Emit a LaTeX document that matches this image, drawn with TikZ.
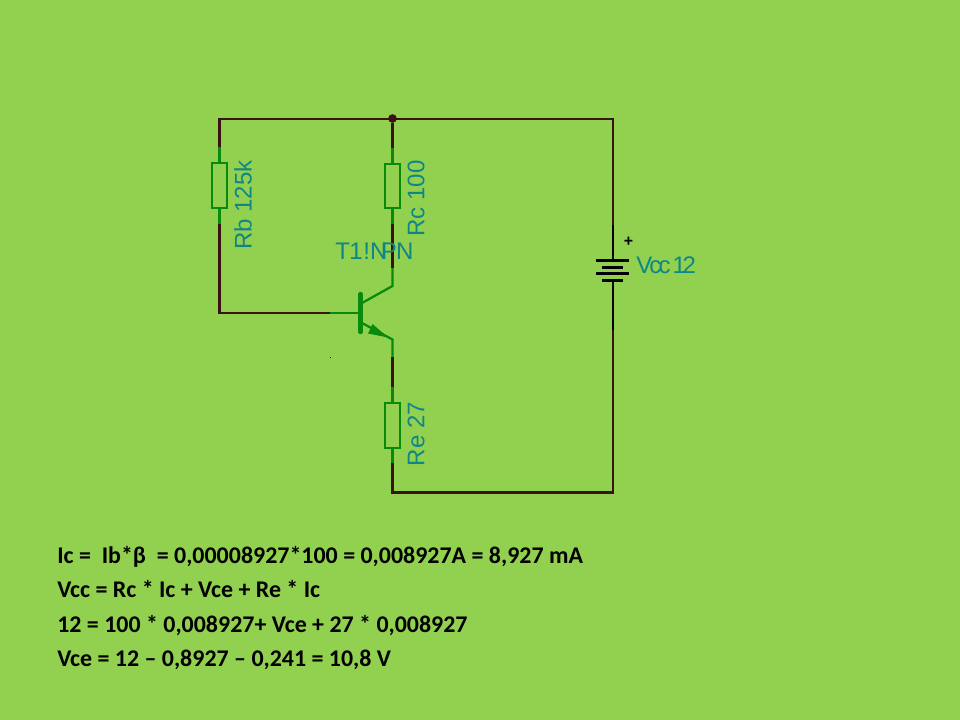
\documentclass[tikz,border=0pt]{standalone}
\usepackage{fontspec}
\setmainfont{Carlito}
\setsansfont{Liberation Sans}
\usetikzlibrary{positioning,backgrounds}
\definecolor{hoja}{HTML}{92D050}
\definecolor{cable}{HTML}{3A1212}
\definecolor{pieza}{HTML}{0A8A0A}
\definecolor{rotulo}{HTML}{0F8686}
\tikzstyle{resistor}=[rectangle,draw=pieza,line width=1.7pt,minimum width=11.2,minimum height=33.5,inner sep=0]
\tikzstyle{wire}=[draw=cable,line width=1.7pt]
\tikzstyle{lead}=[draw=pieza,line width=1.7pt]
\tikzstyle{plate}=[draw=black,line width=2pt]
\tikzstyle{label}=[font=\sffamily\fontsize{18}{18}\selectfont,text=rotulo,inner sep=0]
\tikzstyle{formula}=[font=\bfseries\fontsize{17.95}{18}\selectfont,text=black,anchor=base west,inner sep=0]

\begin{document}
\begin{tikzpicture}[x=.75pt,y=-.75pt]
		\useasboundingbox (0,0) rectangle (960,720);
		\fill[hoja] (0,0) rectangle (960,720);
		\begin{scope}
			\node[resistor]	(rb)	at (219.5,185.5)	{};
			\node[resistor]	(rc)	at (392.5,186)	{};
			\node[resistor]	(re)	at (392.5,425.5)	{};
			\coordinate (tl) at (219.5,119);
			\coordinate (tr) at (613,119);
			\coordinate (bl) at (392.5,492.5);
			\coordinate (br) at (613,492.5);
			\coordinate (bj) at (219.5,313);
			\coordinate (bw) at (330,313);
			\coordinate (base) at (360.5,313);
			\coordinate (colin) at (362,303);
			\coordinate (colout) at (392.5,286);
			\coordinate (colup) at (392.5,268);
			\coordinate (emin) at (362,323);
			\coordinate (emout) at (392.5,339.5);
			\coordinate (emdown) at (392.5,357);
			\coordinate (battop) at (613,260.7);
			\coordinate (batbot) at (613,280.3);
			\node[circle,fill=cable,minimum size=6.5,inner sep=0] (join) at (392.5,118.5) {};

			% cables
			\draw[wire] ([yshift=11.25pt]rb.north) -- (tl) -- (tr) -- (613,225);
			\draw[wire] ([yshift=-11.25pt]rb.south) -- (bj) -- (bw);
			\draw[wire] (join) -- ([yshift=11.25pt]rc.north);
			\draw[wire] ([yshift=-11.25pt]rc.south) -- (colup);
			\draw[wire] (emdown) -- ([yshift=11.25pt]re.north);
			\draw[wire] ([yshift=-10.5pt]re.south) -- (bl) -- (br) -- (batbot);

			% patas verdes
			\draw[lead] (rb.north) -- ([yshift=11.25pt]rb.north);
			\draw[lead] (rb.south) -- ([yshift=-11.25pt]rb.south);
			\draw[lead] (rc.north) -- ([yshift=11.25pt]rc.north);
			\draw[lead] (rc.south) -- ([yshift=-11.25pt]rc.south);
			\draw[lead] (re.north) -- ([yshift=11.25pt]re.north);
			\draw[lead] (re.south) -- ([yshift=-10.5pt]re.south);

			% transistor
			\draw[pieza,line width=3.2pt,line cap=round] (360.5,294) -- (360.5,332);
			\draw[lead] (bw) -- (base);
			\draw[lead] (colin) -- (colout) -- (colup);
			\draw[lead] (emin) -- (emout) -- (emdown);
			\fill[pieza] (388,337.5) -- (368,333.5) -- (372.5,324) -- cycle;
			\fill[black] (329.5,356.5) rectangle (330.5,357.5);

			% bateria
			\draw[plate] (596,260.7) -- (629,260.7);
			\draw[plate] (602,267.3) -- (623,267.3);
			\draw[plate] (596,273.8) -- (629,273.8);
			\draw[plate] (602,280.3) -- (623,280.3);
			\draw[line width=1.7pt,black] (613,225) -- (battop);
			\draw[line width=1.7pt,black] (batbot) -- (613,330);
			\node[font=\sffamily\bfseries\fontsize{12}{12}\selectfont,inner sep=0] (plus) at (628.5,241.5) {+};

			\node[label,rotate=90,anchor=center] (rblab) at (243,205) {Rb 125k};
			\node[label,rotate=90,anchor=center] (rclab) at (416,198.5) {Rc 100};
			\node[label,rotate=90,anchor=center] (relab) at (416,434) {Re 27};
			\node[label] (tlab) at (374.5,251.5) {T\kern-.6pt1\kern.6pt!N\kern-5ptP\kern-.5ptN};
			\node[label,anchor=west] (vlab) at (636,265.5) {V\kern-2.2ptc\kern-2ptc\kern1.5pt 1\kern-2.6pt 2};
		\end{scope}

		\node[formula] (l1) at (57,563) {Ic =\ \ Ib*β\ \ = 0,00008927*100 = 0,008927A = 8,927 mA};
		\node[formula] (l2) at (57,597) {Vcc = Rc * Ic + Vce + Re * Ic};
		\node[formula] (l3) at (57,632) {12 = 100 * 0,008927+ Vce + 27 * 0,008927};
		\node[formula] (l4) at (57,666) {Vce = 12 – 0,8927 – 0,241 = 10,8 V};
	\end{tikzpicture}
\end{document}
